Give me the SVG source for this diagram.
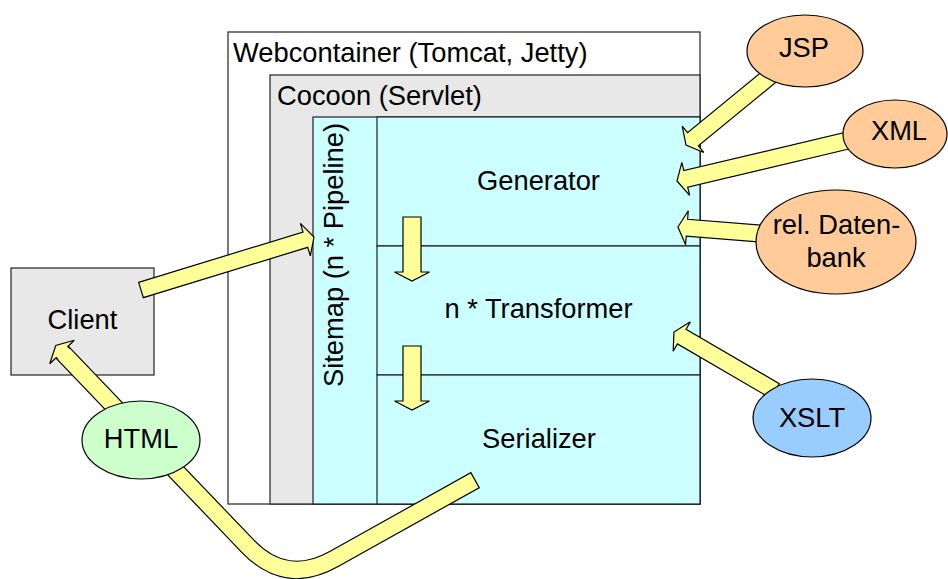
<svg xmlns="http://www.w3.org/2000/svg" width="948" height="579" viewBox="0 0 948 579">
<style>
text{font-family:"Liberation Sans",Arial,sans-serif;font-size:27.3px;fill:#000}
.c{text-anchor:middle}
.box{stroke:#222;stroke-width:1.2}
.arr{fill:#ffff99;stroke:#000;stroke-width:1.2;stroke-linejoin:miter}
.ell{stroke:#000;stroke-width:1.2}
</style>
<rect width="948" height="579" fill="#fff"/>
<g id="webcontainer">
<rect class="box" x="228" y="32" width="472" height="472" fill="#fff"/>
<text x="233" y="62">Webcontainer (Tomcat, Jetty)</text>
</g>
<g id="cocoon">
<rect class="box" x="270" y="75" width="430" height="429" fill="#e8e8e8"/>
<text x="277" y="105">Cocoon (Servlet)</text>
</g>
<g id="sitemap">
<rect class="box" x="313" y="117" width="387" height="387" fill="#ccffff"/>
<text class="c" transform="translate(343,255) rotate(-90)">Sitemap (n * Pipeline)</text>
</g>
<g id="generator">
<rect class="box" x="377" y="117" width="323" height="129" fill="#ccffff"/>
<text class="c" x="538.5" y="190">Generator</text>
</g>
<g id="transformer">
<rect class="box" x="377" y="246" width="323" height="129" fill="#ccffff"/>
<text class="c" x="538.5" y="318">n * Transformer</text>
</g>
<g id="serializer">
<rect class="box" x="377" y="375" width="323" height="129" fill="#ccffff"/>
<text class="c" x="539" y="448">Serializer</text>
</g>
<g id="client">
<rect class="box" x="11" y="268" width="143" height="107" fill="#e8e8e8"/>
<text class="c" x="82.5" y="329">Client</text>
</g>
<g id="connectors">
<polygon class="arr" transform="translate(141,290) rotate(-17.03)" points="0,-8 171.9,-8 171.9,-17 180.9,0 171.9,17 171.9,8 0,8"/>
<polygon class="arr" transform="translate(775,72) rotate(140.64)" points="0,-8.5 106.1,-8.5 106.1,-17 115.1,0 106.1,17 106.1,8.5 0,8.5"/>
<polygon class="arr" transform="translate(850,140) rotate(166.67)" points="0,-8.5 168.8,-8.5 168.8,-17 177.8,0 168.8,17 168.8,8.5 0,8.5"/>
<polygon class="arr" transform="translate(790,236) rotate(-175.41)" points="0,-8.5 103.4,-8.5 103.4,-17 112.4,0 103.4,17 103.4,8.5 0,8.5"/>
<polygon class="arr" transform="translate(775,391) rotate(-149.71)" points="0,-8.5 108,-8.5 108,-17 117,0 108,17 108,8.5 0,8.5"/>
<polygon class="arr" transform="translate(412,217) rotate(90)" points="0,-9 55,-9 55,-17.5 64,0 55,17.5 55,9 0,9"/>
<polygon class="arr" transform="translate(412,346) rotate(90)" points="0,-9 55,-9 55,-17.5 64,0 55,17.5 55,9 0,9"/>
<path d="M 475.6,479.9 L 333.9,559 Q 286,586 248,546.4 L 62,352" fill="none" stroke="#000" stroke-width="18.4"/>
<path d="M 474.5,480.5 L 333.9,559 Q 286,586 248,546.4 L 62,352" fill="none" stroke="#ffff99" stroke-width="16"/>
<path class="arr" transform="translate(62,352) rotate(-133.75)" d="M -3,-8 L 0,-8 L 0,-17 L 9,0 L 0,17 L 0,8 L -3,8"/>
</g>
<g id="jsp">
<ellipse class="ell" cx="805" cy="51" rx="58" ry="36" fill="#ffcc99"/>
<text class="c" x="804" y="57">JSP</text>
</g>
<g id="xml">
<ellipse class="ell" cx="895" cy="134" rx="52" ry="34" fill="#ffcc99"/>
<text class="c" x="899" y="140">XML</text>
</g>
<g id="datenbank">
<ellipse class="ell" cx="836" cy="242" rx="80" ry="52" fill="#ffcc99"/>
<text class="c" x="836.5" y="233.5">rel. Daten-</text>
<text class="c" x="836" y="267">bank</text>
</g>
<g id="xslt">
<ellipse class="ell" cx="812" cy="418" rx="59" ry="39" fill="#99ccff"/>
<text class="c" x="812" y="427">XSLT</text>
</g>
<g id="html">
<ellipse class="ell" cx="141" cy="440" rx="59" ry="39" fill="#ccffcc"/>
<text class="c" x="141" y="448">HTML</text>
</g>
</svg>
